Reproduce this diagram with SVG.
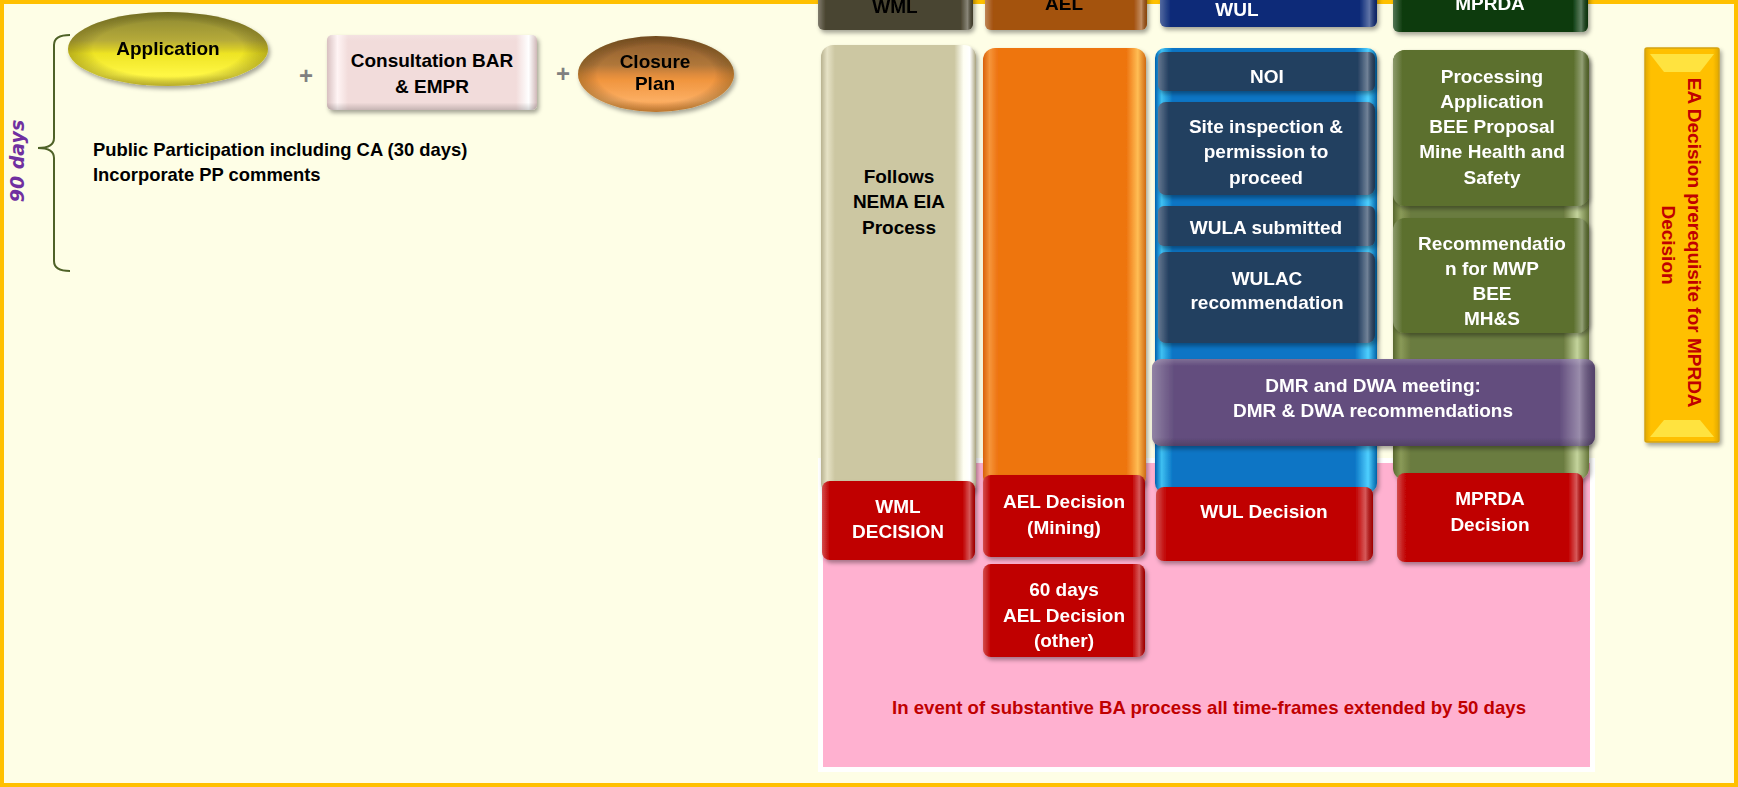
<svg xmlns="http://www.w3.org/2000/svg" width="1738" height="787" viewBox="0 0 1738 787">
<style>
.t{font-family:"Liberation Sans",Arial,sans-serif;font-weight:bold;font-size:19px;text-anchor:middle}
.w{fill:#ffffff}
.k{fill:#000000}
.r{fill:#C00000}
.plus{font-family:"Liberation Sans",Arial,sans-serif;font-weight:bold;font-size:24px;fill:#808080;text-anchor:middle}
</style>
<defs>
<filter id="sh" x="-10%" y="-10%" width="125%" height="130%">
<feDropShadow dx="2" dy="3" stdDeviation="2" flood-color="#000" flood-opacity="0.35"/>
</filter>
<linearGradient id="bevH" x1="0" y1="0" x2="1" y2="0">
<stop offset="0" stop-color="#fff" stop-opacity="0.30"/>
<stop offset="0.05" stop-color="#fff" stop-opacity="0"/>
<stop offset="0.92" stop-color="#fff" stop-opacity="0"/>
<stop offset="0.965" stop-color="#fff" stop-opacity="0.35"/>
<stop offset="1" stop-color="#000" stop-opacity="0.15"/>
</linearGradient>
<linearGradient id="bevV" x1="0" y1="0" x2="0" y2="1">
<stop offset="0" stop-color="#fff" stop-opacity="0.18"/>
<stop offset="0.08" stop-color="#fff" stop-opacity="0"/>
<stop offset="0.9" stop-color="#000" stop-opacity="0"/>
<stop offset="1" stop-color="#000" stop-opacity="0.18"/>
</linearGradient>
<linearGradient id="gBeige" x1="0" y1="0" x2="1" y2="0">
<stop offset="0" stop-color="#B8B290"/>
<stop offset="0.04" stop-color="#E6E2C6"/>
<stop offset="0.09" stop-color="#CCC7A2"/>
<stop offset="0.86" stop-color="#CCC7A2"/>
<stop offset="0.92" stop-color="#FFFFF4"/>
<stop offset="0.96" stop-color="#FFFFFF"/>
<stop offset="1" stop-color="#A9A37E"/>
</linearGradient>
<linearGradient id="gOrange" x1="0" y1="0" x2="1" y2="0">
<stop offset="0" stop-color="#D8600A"/>
<stop offset="0.04" stop-color="#F5953A"/>
<stop offset="0.09" stop-color="#EE7411"/>
<stop offset="0.88" stop-color="#EE7411"/>
<stop offset="0.95" stop-color="#FFBE55"/>
<stop offset="1" stop-color="#D06A10"/>
</linearGradient>
<linearGradient id="gBlue" x1="0" y1="0" x2="1" y2="0">
<stop offset="0" stop-color="#0060B0"/>
<stop offset="0.03" stop-color="#3EC0F2"/>
<stop offset="0.08" stop-color="#0A75C5"/>
<stop offset="0.9" stop-color="#0A75C5"/>
<stop offset="0.96" stop-color="#4FD0FF"/>
<stop offset="1" stop-color="#0062A8"/>
</linearGradient>
<linearGradient id="gOlive" x1="0" y1="0" x2="1" y2="0">
<stop offset="0" stop-color="#58682E"/>
<stop offset="0.04" stop-color="#8A9A58"/>
<stop offset="0.09" stop-color="#6B7B3F"/>
<stop offset="0.87" stop-color="#6B7B3F"/>
<stop offset="0.94" stop-color="#C4D49C"/>
<stop offset="1" stop-color="#66763A"/>
</linearGradient>
<linearGradient id="gYel" x1="0" y1="0" x2="1" y2="0">
<stop offset="0" stop-color="#E0A800"/>
<stop offset="0.08" stop-color="#FFC000"/>
<stop offset="0.92" stop-color="#FFC000"/>
<stop offset="1" stop-color="#E0A800"/>
</linearGradient>
<linearGradient id="gApp" x1="0" y1="0" x2="0" y2="1">
<stop offset="0" stop-color="#8A8630"/>
<stop offset="0.38" stop-color="#B5AA3A"/>
<stop offset="0.5" stop-color="#D8CC28"/>
<stop offset="0.56" stop-color="#EEE424"/>
<stop offset="0.85" stop-color="#FFF744"/>
<stop offset="1" stop-color="#E8DC3A"/>
</linearGradient>
<linearGradient id="gClo" x1="0" y1="0" x2="0" y2="1">
<stop offset="0" stop-color="#87582A"/>
<stop offset="0.38" stop-color="#B0773A"/>
<stop offset="0.5" stop-color="#DC8A3C"/>
<stop offset="0.58" stop-color="#F0953E"/>
<stop offset="0.85" stop-color="#FCAE62"/>
<stop offset="1" stop-color="#EC9240"/>
</linearGradient>
<radialGradient id="gEdge" cx="0.5" cy="0.5" r="0.5">
<stop offset="0.75" stop-color="#000" stop-opacity="0"/>
<stop offset="1" stop-color="#3A3000" stop-opacity="0.28"/>
</radialGradient>
<linearGradient id="gPinkBox" x1="0" y1="0" x2="1" y2="0">
<stop offset="0" stop-color="#D8C0C0"/>
<stop offset="0.05" stop-color="#FFF4F4"/>
<stop offset="0.1" stop-color="#F2DCDB"/>
<stop offset="0.9" stop-color="#F2DCDB"/>
<stop offset="0.96" stop-color="#FFFFFF"/>
<stop offset="1" stop-color="#D0B8B8"/>
</linearGradient>
</defs>

<g id="background">
<rect x="0" y="0" width="1738" height="787" fill="#FEFEE6"/>
<rect x="2" y="2" width="1734" height="783" fill="none" stroke="#FFC000" stroke-width="4"/>
</g>

<g id="pink-extension">
<rect x="818" y="458" width="777" height="314" fill="#FFFFFF"/>
<rect x="823" y="463" width="767" height="304" fill="#FFB1D0"/>
<text class="t r" x="1209" y="714" font-size="18" textLength="634" lengthAdjust="spacingAndGlyphs">In event of substantive BA process all time-frames extended by 50 days</text>
</g>

<g id="connectors">
<path d="M70,35 Q54,35 54,45 L54,138 Q54,148 38,148 Q54,148 54,158 L54,261 Q54,271 70,271" fill="none" stroke="#4F6228" stroke-width="2"/>
</g>

<g id="label-90days">
<text transform="translate(24,161) rotate(-90)" text-anchor="middle" font-family="DejaVu Sans, Verdana, sans-serif" font-weight="bold" font-style="italic" font-size="19" fill="#7030A0">90 days</text>
</g>

<g id="node-application" filter="url(#sh)">
<ellipse cx="168" cy="49" rx="100" ry="37" fill="url(#gApp)"/>
<ellipse cx="168" cy="49" rx="100" ry="37" fill="url(#gEdge)"/>
<text class="t k" x="168" y="55">Application</text>
</g>

<g id="plus-signs">
<text class="plus" x="306" y="84">+</text>
<text class="plus" x="563" y="82">+</text>
</g>

<g id="node-consultation">
<rect x="327" y="35" width="210" height="75" rx="5" fill="url(#gPinkBox)" filter="url(#sh)"/>
<rect x="327" y="35" width="210" height="75" rx="5" fill="url(#bevV)"/>
<text class="t k" x="432" y="67">Consultation BAR</text>
<text class="t k" x="432" y="93">&amp; EMPR</text>
</g>

<g id="node-closure" filter="url(#sh)">
<ellipse cx="656" cy="74" rx="78" ry="38" fill="url(#gClo)"/>
<ellipse cx="656" cy="74" rx="78" ry="38" fill="url(#gEdge)"/>
<text class="t k" x="655" y="68">Closure</text>
<text class="t k" x="655" y="90">Plan</text>
</g>

<g id="node-pp-text">
<text font-family="Liberation Sans, Arial, sans-serif" font-weight="bold" font-size="18.4" fill="#000" x="93" y="156">Public Participation including CA (30 days)</text>
<text font-family="Liberation Sans, Arial, sans-serif" font-weight="bold" font-size="18.4" fill="#000" x="93" y="181">Incorporate PP comments</text>
</g>

<g id="node-header-wml" filter="url(#sh)">
<rect x="818" y="-10" width="155" height="40" rx="6" fill="#4A4530"/>
<rect x="818" y="-10" width="155" height="40" rx="6" fill="url(#bevH)"/>
<text class="t k" x="895" y="13">WML</text>
</g>
<g id="node-header-ael" filter="url(#sh)">
<rect x="985" y="-10" width="162" height="40" rx="6" fill="#A4520F"/>
<rect x="985" y="-10" width="162" height="40" rx="6" fill="url(#bevH)"/>
<text class="t k" x="1064" y="10">AEL</text>
</g>
<g id="node-header-wul" filter="url(#sh)">
<rect x="1160" y="-10" width="217" height="37" rx="6" fill="#0B2A78"/>
<rect x="1160" y="-10" width="217" height="37" rx="6" fill="url(#bevH)"/>
<text class="t w" x="1237" y="16">WUL</text>
</g>
<g id="node-header-mprda" filter="url(#sh)">
<rect x="1393" y="-10" width="195" height="42" rx="6" fill="#0A3A0C"/>
<rect x="1393" y="-10" width="195" height="42" rx="6" fill="url(#bevH)"/>
<text class="t w" x="1490" y="10">MPRDA</text>
</g>

<g id="node-wml-column">
<rect x="821" y="45" width="155" height="450" rx="12" fill="url(#gBeige)" filter="url(#sh)"/>
<text class="t k" x="899" y="183">Follows</text>
<text class="t k" x="899" y="208">NEMA EIA</text>
<text class="t k" x="899" y="234">Process</text>
</g>

<g id="node-ael-column">
<rect x="983" y="48" width="163" height="440" rx="12" fill="url(#gOrange)" filter="url(#sh)"/>
</g>

<g id="node-wul-column">
<rect x="1155" y="48" width="222" height="445" rx="10" fill="url(#gBlue)" filter="url(#sh)"/>
</g>

<g id="node-mprda-column">
<rect x="1393" y="50" width="196" height="430" rx="12" fill="url(#gOlive)" filter="url(#sh)"/>
</g>

<g id="node-noi" filter="url(#sh)">
<rect x="1158" y="52" width="217" height="39" rx="6" fill="#243F60"/>
<rect x="1158" y="52" width="217" height="39" rx="6" fill="url(#bevH)"/>
<text class="t w" x="1267" y="83">NOI</text>
</g>
<g id="node-site-inspection" filter="url(#sh)">
<rect x="1158" y="102" width="217" height="93" rx="8" fill="#243F60"/>
<rect x="1158" y="102" width="217" height="93" rx="8" fill="url(#bevH)"/>
<text class="t w" x="1266" y="133">Site inspection &amp;</text>
<text class="t w" x="1266" y="158">permission to</text>
<text class="t w" x="1266" y="184">proceed</text>
</g>
<g id="node-wula-submitted" filter="url(#sh)">
<rect x="1158" y="206" width="217" height="40" rx="6" fill="#243F60"/>
<rect x="1158" y="206" width="217" height="40" rx="6" fill="url(#bevH)"/>
<text class="t w" x="1266" y="234">WULA submitted</text>
</g>
<g id="node-wulac" filter="url(#sh)">
<rect x="1158" y="252" width="217" height="91" rx="8" fill="#243F60"/>
<rect x="1158" y="252" width="217" height="91" rx="8" fill="url(#bevH)"/>
<text class="t w" x="1267" y="285">WULAC</text>
<text class="t w" x="1267" y="309">recommendation</text>
</g>

<g id="node-processing" filter="url(#sh)">
<rect x="1393" y="50" width="196" height="156" rx="12" fill="#5B6F2D"/>
<rect x="1393" y="50" width="196" height="156" rx="12" fill="url(#bevH)"/>
<text class="t w" x="1492" y="83">Processing</text>
<text class="t w" x="1492" y="108">Application</text>
<text class="t w" x="1492" y="133">BEE Proposal</text>
<text class="t w" x="1492" y="158">Mine Health and</text>
<text class="t w" x="1492" y="184">Safety</text>
</g>
<g id="node-recommendation" filter="url(#sh)">
<rect x="1393" y="218" width="196" height="115" rx="12" fill="#5B6F2D"/>
<rect x="1393" y="218" width="196" height="115" rx="12" fill="url(#bevH)"/>
<text class="t w" x="1492" y="250">Recommendatio</text>
<text class="t w" x="1492" y="275">n for MWP</text>
<text class="t w" x="1492" y="300">BEE</text>
<text class="t w" x="1492" y="325">MH&amp;S</text>
</g>

<g id="node-dmr-dwa" filter="url(#sh)">
<rect x="1152" y="359" width="443" height="87" rx="9" fill="#634E7E"/>
<rect x="1152" y="359" width="443" height="87" rx="9" fill="url(#bevH)"/>
<rect x="1152" y="359" width="443" height="87" rx="9" fill="url(#bevV)"/>
<text class="t w" x="1373" y="392">DMR and DWA meeting:</text>
<text class="t w" x="1373" y="417">DMR &amp; DWA recommendations</text>
</g>

<g id="node-wml-decision" filter="url(#sh)">
<rect x="822" y="481" width="153" height="79" rx="8" fill="#C00000"/>
<rect x="822" y="481" width="153" height="79" rx="8" fill="url(#bevH)"/>
<text class="t w" x="898" y="513">WML</text>
<text class="t w" x="898" y="538">DECISION</text>
</g>
<g id="node-ael-decision-mining" filter="url(#sh)">
<rect x="983" y="475" width="162" height="82" rx="8" fill="#C00000"/>
<rect x="983" y="475" width="162" height="82" rx="8" fill="url(#bevH)"/>
<text class="t w" x="1064" y="508">AEL Decision</text>
<text class="t w" x="1064" y="534">(Mining)</text>
</g>
<g id="node-ael-decision-other" filter="url(#sh)">
<rect x="983" y="564" width="162" height="93" rx="8" fill="#C00000"/>
<rect x="983" y="564" width="162" height="93" rx="8" fill="url(#bevH)"/>
<text class="t w" x="1064" y="596">60 days</text>
<text class="t w" x="1064" y="622">AEL Decision</text>
<text class="t w" x="1064" y="647">(other)</text>
</g>
<g id="node-wul-decision" filter="url(#sh)">
<rect x="1156" y="487" width="217" height="74" rx="8" fill="#C00000"/>
<rect x="1156" y="487" width="217" height="74" rx="8" fill="url(#bevH)"/>
<text class="t w" x="1264" y="518">WUL Decision</text>
</g>
<g id="node-mprda-decision" filter="url(#sh)">
<rect x="1397" y="473" width="186" height="89" rx="8" fill="#C00000"/>
<rect x="1397" y="473" width="186" height="89" rx="8" fill="url(#bevH)"/>
<text class="t w" x="1490" y="505">MPRDA</text>
<text class="t w" x="1490" y="531">Decision</text>
</g>

<g id="node-ea-decision">
<rect x="1645" y="48" width="74" height="394" rx="2" fill="url(#gYel)" stroke="#D4A20C" stroke-width="1.5" filter="url(#sh)"/>
<polygon points="1650,54 1714,54 1700,72 1664,72" fill="#FFE94A" opacity="0.85"/>
<polygon points="1664,420 1700,420 1714,437 1650,437" fill="#FFE94A" opacity="0.85"/>
<text class="t r" transform="translate(1688,245) rotate(90)">
<tspan x="0" y="0">EA Decision prerequisite for MPRDA</tspan>
<tspan x="0" y="26">Decision</tspan>
</text>
</g>
</svg>
